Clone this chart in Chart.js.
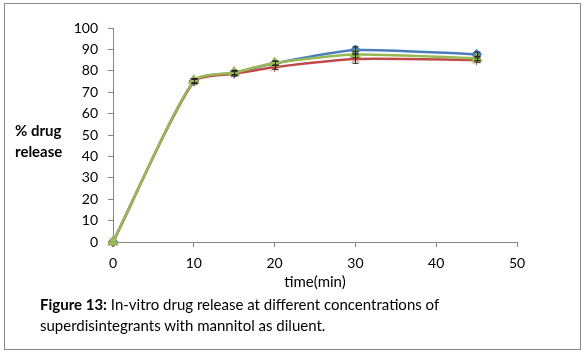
<!DOCTYPE html>
<html>
<head>
<meta charset="utf-8">
<script src="https://cdn.jsdelivr.net/npm/chart.js@4.4.0/dist/chart.umd.min.js"></script>
<style>
    html, body { margin: 0; padding: 0; background: #fff; }
    #wrap { position: relative; width: 586px; height: 353px; overflow: hidden; }
    #frame { position: absolute; left: 4px; top: 3px; width: 575px; height: 345px; border: 1px solid #888; }
    #salesChart { position: absolute; left: 0; top: 0; }
    .ytitle { position: absolute; left: 15px; top: 120px; font: bold 15px Lato, sans-serif; line-height: 21px; color: #000; }
    .caption { position: absolute; left: 40px; top: 294px; font: 15px Lato, sans-serif; line-height: 21px; color: #000; }
</style>
</head>
<body>
<div id="wrap">
    <div id="frame"></div>
    <canvas id="salesChart" width="586" height="353"></canvas>
    <div class="ytitle">% drug<br>release</div>
    <div class="caption"><b>Figure 13:</b> In-vitro drug release at different concentrations of<br>superdisintegrants with mannitol as diluent.</div>
</div>
<script>
// time points (min)
const times = [0, 10, 15, 20, 30, 45];
// % drug release per formulation
const seriesBlue = [0, 75.2, 79.1, 83.5, 89.7, 87.7];
const seriesRed = [0, 75.0, 78.6, 81.7, 85.5, 85.0];
const seriesGreen = [0, 75.4, 79.2, 83.6, 87.6, 85.8];
// error bar half-widths
const errBlue = [0, 1, 1, 1, 1.5, 1];
const errRed = [0, 1, 1, 1, 2, 1];
const errGreen = [0, 1, 1, 1, 1.5, 1];
const yTicks = [0, 10, 20, 30, 40, 50, 60, 70, 80, 90, 100];
const xTicks = [0, 10, 20, 30, 40, 50];

(function() {
    'use strict';

    function toPoints(vals) {
        return times.map((t, i) => ({ x: t, y: vals[i] }));
    }

    // draws vertical error bars from the scale values
    const errorBars = {
        id: 'errorBars',
        afterDatasetsDraw(chart) {
            const ctx = chart.ctx;
            const ys = chart.scales.y;
            const xs = chart.scales.x;
            ctx.save();
            ctx.strokeStyle = '#222';
            ctx.lineWidth = 1;
            chart.data.datasets.forEach(ds => {
                ds.data.forEach((p, i) => {
                    const e = ds.errors[i];
                    if (!e) return;
                    const x = Math.round(xs.getPixelForValue(p.x)) + 0.5;
                    const y1 = ys.getPixelForValue(p.y + e);
                    const y2 = ys.getPixelForValue(p.y - e);
                    ctx.beginPath();
                    ctx.moveTo(x, y1); ctx.lineTo(x, y2);
                    ctx.moveTo(x - 3, y1); ctx.lineTo(x + 3, y1);
                    ctx.moveTo(x - 3, y2); ctx.lineTo(x + 3, y2);
                    ctx.stroke();
                });
            });
            ctx.restore();
        }
    };

    const font = { family: 'Lato, sans-serif', size: 14 };

    const config = {
        type: 'line',
        data: {
            datasets: [
                {
                    data: toPoints(seriesBlue),
                    errors: errBlue,
                    borderColor: '#4a7ebb',
                    backgroundColor: '#4a7ebb',
                    pointStyle: 'rectRot',
                    pointRadius: 5,
                    order: 3
                },
                {
                    data: toPoints(seriesRed),
                    errors: errRed,
                    borderColor: '#be4b48',
                    backgroundColor: '#be4b48',
                    pointStyle: 'star',
                    pointRadius: 5,
                    pointBorderWidth: 1,
                    order: 2
                },
                {
                    data: toPoints(seriesGreen),
                    errors: errGreen,
                    borderColor: '#98b954',
                    backgroundColor: '#98b954',
                    pointStyle: 'triangle',
                    pointRadius: 6,
                    order: 1
                }
            ]
        },
        options: {
            responsive: false,
            animation: false,
            clip: false,
            layout: { padding: { left: 70, right: 69, top: 28, bottom: 62 } },
            elements: {
                line: { borderWidth: 2.5, tension: 0.22, cubicInterpolationMode: 'default' }
            },
            plugins: {
                legend: { display: false },
                tooltip: { enabled: false }
            },
            scales: {
                x: {
                    type: 'linear',
                    min: 0,
                    max: 50,
                    afterBuildTicks: s => { s.ticks = xTicks.map(v => ({ value: v })); },
                    afterFit: s => { s.height = 49; },
                    border: { color: '#868686' },
                    grid: { drawOnChartArea: false, drawTicks: true, tickLength: 5, color: '#868686' },
                    ticks: { color: '#000', font: font, padding: 8, maxRotation: 0 },
                    title: { display: true, text: 'time(min)', color: '#000', font: { family: 'Lato, sans-serif', size: 15 }, padding: 0 }
                },
                y: {
                    min: 0,
                    max: 100,
                    afterBuildTicks: s => { s.ticks = yTicks.map(v => ({ value: v })); },
                    afterFit: s => { s.width = 43; },
                    border: { color: '#868686' },
                    grid: { drawOnChartArea: false, drawTicks: true, tickLength: 5, color: '#868686' },
                    ticks: { color: '#000', font: font, padding: 10 }
                }
            }
        },
        plugins: [errorBars]
    };

    new Chart(document.getElementById('salesChart'), config);
})();
</script>
</body>
</html>
